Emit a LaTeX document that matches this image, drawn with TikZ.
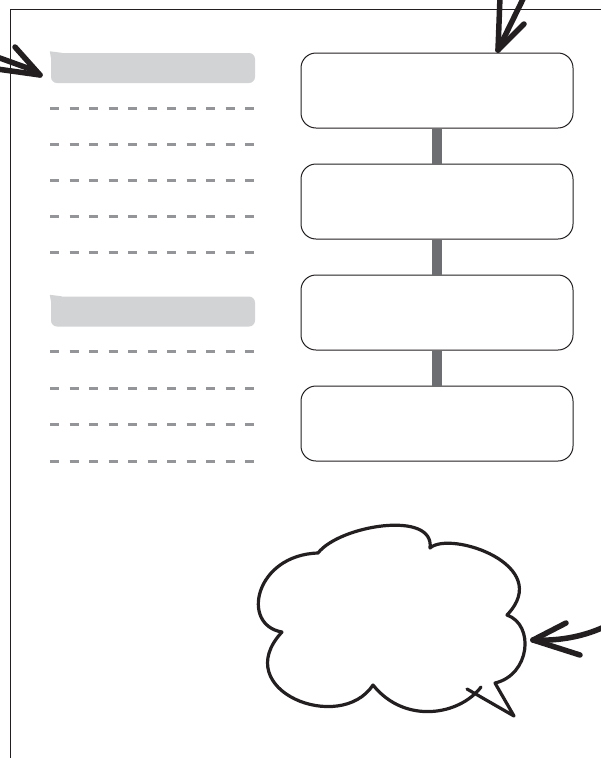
\documentclass[tikz,border=0pt]{standalone}
\usepackage{tikz}
\usepackage{xcolor}
\usetikzlibrary{positioning}
\definecolor{inkblack}{RGB}{35, 31, 32}
\definecolor{barfill}{RGB}{209, 211, 212}
\definecolor{dashgray}{RGB}{147, 149, 152}
\definecolor{linkgray}{RGB}{109, 110, 113}

\begin{document}
\begin{tikzpicture}[
    x=1pt, y=-1pt,
    stage/.style={rectangle, rounded corners=15pt, minimum width=272pt, minimum height=75pt, inner sep=0pt, draw=inkblack, fill=white, line width=1pt},
    heading/.style={rectangle, rounded corners=6pt, minimum width=204pt, minimum height=30pt, inner sep=0pt, fill=barfill},
    rule/.style={dashgray, line width=3pt, dash pattern=on 9pt off 10.5pt},
    link/.style={linkgray, line width=10pt},
    pointer/.style={inkblack, line width=5.5pt, line cap=round, line join=round},
    bubble/.style={inkblack, line width=3.2pt, line cap=round, line join=round}
]
\useasboundingbox (0,0) rectangle (601,758);

% Page frame
\draw[inkblack, line width=1.5pt] (10.5,760) -- (10.5,9.5) -- (603,9.5);

% Headings and ruled lines
\node[heading] (headA) at (153,68) {};
\node[heading] (headB) at (153,311.5) {};
\foreach \h in {headA, headB}
  \fill[barfill] ([xshift=-1pt, yshift=1.5pt]\h.north west) -- ++(12pt,-1.5pt) -- ++(-10pt,-10pt) -- cycle;
\foreach \y in {108,144,180,216,252,351,388,424,461}
  \draw[rule] (50,\y) -- (255,\y);

% Stages
\node[stage] (box1) at (437,90.5) {};
\node[stage, below=35pt of box1] (box2) {};
\node[stage, below=35pt of box2] (box3) {};
\node[stage, below=35pt of box3] (box4) {};

% Connections
\foreach \a/\b in {box1/box2, box2/box3, box3/box4}
  \draw[link] (\a.south) -- (\b.north);

% Thought cloud
\draw[bubble] (282,632) .. controls (240,625) and (255,555) .. (318,553)
  .. controls (340,525) and (435,510) .. (430,548)
  .. controls (450,530) and (555,565) .. (507,615)
  .. controls (535,625) and (530,675) .. (495,683)
  -- (514,716) -- (467,689);
\draw[bubble] (481,687) .. controls (460,715) and (405,725) .. (373,685)
  .. controls (340,735) and (228,690) .. (282,632);

% Pointers
\coordinate (tipA) at (40,75);
\coordinate (tipB) at (498,50);
\coordinate (tipC) at (533,640);
\draw[pointer] (15,47) -- (tipA);
\draw[pointer] (-3,57) -- (33,70);
\draw[pointer] (-3,69) -- (tipA);
\draw[pointer] (500,-3) -- (tipB);
\draw[pointer] (524,-3) -- (tipB);
\draw[pointer] (524,24) -- (tipB);
\draw[pointer] (604,627) .. controls (580,638) and (555,641) .. (tipC);
\draw[pointer] (566,623) -- (tipC);
\draw[pointer] (580,655) -- (tipC);

\end{tikzpicture}
\end{document}
